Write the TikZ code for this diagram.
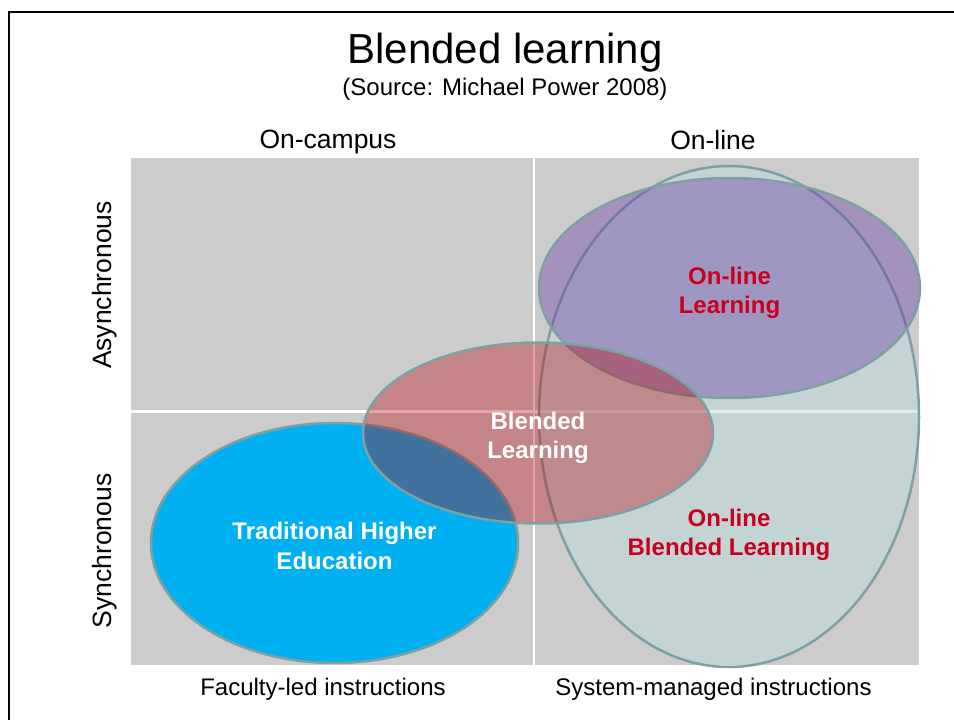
\documentclass[tikz,border=0pt]{standalone}
\usepackage{fontspec}
\setmainfont{Liberation Sans}
\usepackage{tikz}
\usetikzlibrary{shapes.geometric, positioning}
\definecolor{mygray}{RGB}{204,204,204}
\definecolor{myblue}{RGB}{0,176,240}
\definecolor{myred}{RGB}{200,0,30}
\definecolor{myrose}{RGB}{184,0,5}
\definecolor{mypurple}{RGB}{105,60,165}
\definecolor{myteal}{RGB}{190,220,222}
\definecolor{myedge}{RGB}{125,160,162}
\tikzset{
  zone/.style={ellipse, draw=myedge, line width=2.5pt, inner sep=0pt},
  zonetext/.style={align=center, font=\fontsize{24}{29.5}\selectfont\bfseries},
  axislabel/.style={font=\fontsize{26.5}{31}\selectfont},
  instrlabel/.style={anchor=base, font=\fontsize{24}{29}\selectfont}
}

\begin{document}
\begin{tikzpicture}[x=1pt, y=-1pt]
  \useasboundingbox (0,0) rectangle (954,720);

  % Frame
  \draw[line width=2pt] (9,720) -- (9,12) -- (954,12);

  % Title
  \node[anchor=base, font=\fontsize{42}{50}\selectfont] (title) at (505,63) {Blended learning};
  \node[anchor=base, font=\fontsize{24}{29}\selectfont] (source) at (505,95) {(Source: Michael Power 2008)};

  % Quadrants
  \fill[mygray] (131,158) rectangle (919,665);
  \draw[white, line width=1.5pt] (534,158) -- (534,665);
  \draw[white, line width=3pt] (131,411) -- (919,411);

  % Axis labels
  \node[axislabel, anchor=base] (campus) at (328,148) {On-campus};
  \node[axislabel, anchor=base] (online) at (713,149) {On-line};
  \node[axislabel, rotate=90] (async) at (104.5,285) {Asynchronous};
  \node[axislabel, rotate=90] (sync) at (104.5,551) {Synchronous};
  \node[instrlabel] (faculty) at (323,695) {Faculty-led instructions};
  \node[instrlabel] (system) at (713.5,695) {System-managed instructions};

  % Zones
  \node[zone, fill=myteal, fill opacity=0.5, minimum width=380, minimum height=501] (olb) at (729,416.5) {};
  \node[zone, fill=myblue, minimum width=367, minimum height=240] (trad) at (334.5,543) {};
  \node[zone, fill=mypurple, fill opacity=0.4, minimum width=381, minimum height=220] (ol) at (729.5,288) {};
  \node[zone, fill=myrose, fill opacity=0.35, minimum width=350, minimum height=181] (bl) at (538,433) {};

  % Zone names
  \node[zonetext, text=myred] (olbtext) at (729,535) {On-line\\Blended Learning};
  \node[zonetext, text=white] (tradtext) at (334.5,546) {Traditional Higher\\Education};
  \node[zonetext, text=myred] (oltext) at (729.5,293) {On-line\\Learning};
  \node[zonetext, text=white] (bltext) at (538,438) {Blended\\Learning};
\end{tikzpicture}
\end{document}
